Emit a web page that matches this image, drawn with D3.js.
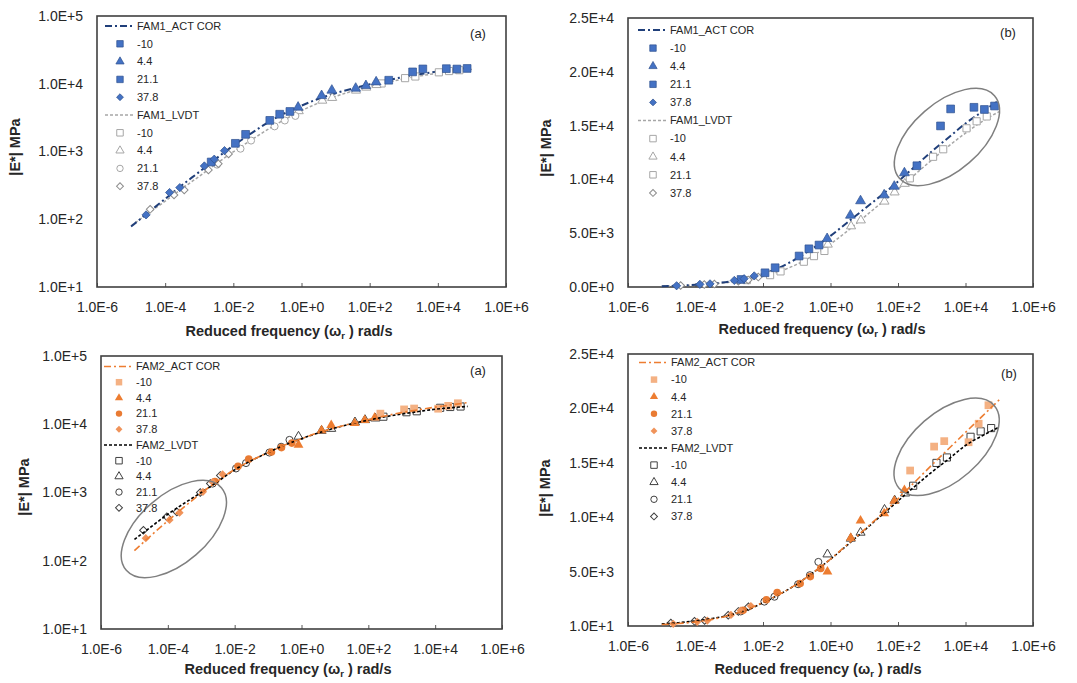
<!DOCTYPE html>
<html>
<head>
<meta charset="utf-8">
<script src="https://cdn.jsdelivr.net/npm/d3@7"></script>
<style>
  body { margin: 0; background: #fff; }
  text { font-family: Arial, "Liberation Sans", sans-serif; fill: #262626; }
</style>
</head>
<body>
<svg id="chart" width="1077" height="683"></svg>
<script>
// x values below are log10 of the reduced frequency (rad/s), y values are |E*| in MPa

const temps = ["-10", "4.4", "21.1", "37.8"];

const xTickExp = [-6, -4, -2, 0, 2, 4, 6];
const xTickLabels = ["1.0E-6", "1.0E-4", "1.0E-2", "1.0E+0", "1.0E+2", "1.0E+4", "1.0E+6"];
const yLogTicks = [1e1, 1e2, 1e3, 1e4, 1e5];
const yLogLabels = ["1.0E+1", "1.0E+2", "1.0E+3", "1.0E+4", "1.0E+5"];
const yLinTicks = [0, 5000, 10000, 15000, 20000, 25000];
const yLinLabels = ["0.0E+0", "5.0E+3", "1.0E+4", "1.5E+4", "2.0E+4", "2.5E+4"];
const yLin2Ticks = [10, 5010, 10010, 15010, 20010, 25010];
const yLin2Labels = ["1.0E+1", "5.0E+3", "1.0E+4", "1.5E+4", "2.0E+4", "2.5E+4"];

// FAM1 - actuator (corrected)
const f1Act_m10 = [[2.56, 11270], [3.26, 14970], [3.56, 16550], [4.25, 16700], [4.56, 16500], [4.86, 16820]];
const f1Act_4 = [[-0.10, 4490], [0.59, 6660], [0.89, 8000], [1.59, 8550], [1.89, 9350], [2.19, 10600]];
const f1Act_21 = [[-2.65, 700], [-1.94, 1320], [-1.64, 1790], [-0.93, 2880], [-0.64, 3550], [-0.34, 3900]];
const f1Act_37 = [[-4.56, 116], [-3.87, 248], [-3.57, 293], [-2.85, 612], [-2.56, 770], [-2.26, 1030]];
// FAM1 - LVDT
const f1Lvdt_m10 = [[2.35, 10100], [3.04, 12100], [3.34, 12800], [4.03, 14750], [4.33, 15400], [4.63, 15850]];
const f1Lvdt_4 = [[-0.08, 3950], [0.61, 5650], [0.90, 6200], [1.60, 7950], [1.90, 8800], [2.20, 9600]];
const f1Lvdt_21 = [[-2.48, 640], [-1.79, 1100], [-1.48, 1450], [-0.79, 2350], [-0.49, 2870], [-0.18, 3350]];
const f1Lvdt_37 = [[-4.44, 140], [-3.74, 228], [-3.44, 270], [-2.73, 535], [-2.44, 660], [-2.14, 920]];
// FAM1 master curves
const f1ActCurveX = [-5, -4.5, -4, -3.5, -3, -2.5, -2, -1.5, -1, -0.5, 0, 0.5, 1, 1.5, 2, 2.5, 3, 3.5, 4, 4.5, 4.93];
const f1ActCurveY = [78, 125, 200, 320, 500, 790, 1220, 1820, 2650, 3650, 4750, 6000, 7250, 8500, 9800, 11200, 12600, 13900, 15200, 16300, 17200];
const f1LvdtCurveX = [-5, -4.5, -4, -3.5, -3, -2.5, -2, -1.5, -1, -0.5, 0, 0.5, 1, 1.5, 2, 2.5, 3, 3.5, 4, 4.5, 5];
const f1LvdtCurveY = [80, 122, 185, 285, 430, 660, 990, 1450, 2100, 2950, 4000, 5200, 6500, 7800, 9100, 10450, 11800, 13100, 14300, 15400, 16300];

// FAM2 - actuator (corrected)
const f2Act_m10 = [[2.36, 14300], [3.07, 16500], [3.37, 17000], [4.09, 16900], [4.39, 18600], [4.68, 20300]];
const f2Act_4 = [[-0.09, 5000], [0.60, 8100], [0.89, 9700], [1.59, 10350], [1.89, 11500], [2.19, 12500]];
const f2Act_21 = [[-2.59, 1450], [-1.90, 2420], [-1.58, 3080], [-0.90, 3920], [-0.60, 4550], [-0.29, 5300]];
const f2Act_37 = [[-4.66, 214], [-3.95, 396], [-3.65, 507], [-2.95, 1025], [-2.66, 1420], [-2.36, 1840]];
// FAM2 - LVDT
const f2Lvdt_m10 = [[2.45, 12900], [3.14, 15000], [3.45, 15500], [4.15, 17400], [4.45, 17900], [4.76, 18200]];
const f2Lvdt_4 = [[-0.09, 6600], [0.60, 8050], [0.89, 8600], [1.60, 10700], [1.90, 11550], [2.21, 12200]];
const f2Lvdt_21 = [[-2.66, 1350], [-1.96, 2250], [-1.66, 2700], [-0.96, 3850], [-0.61, 4680], [-0.36, 5900]];
const f2Lvdt_37 = [[-4.73, 280], [-4.03, 440], [-3.73, 520], [-3.03, 1000], [-2.73, 1350], [-2.43, 1780]];
// FAM2 master curves
const f2ActCurveX = [-5, -4.5, -4, -3.5, -3, -2.5, -2, -1.5, -1, -0.5, 0, 0.5, 1, 1.5, 2, 2.5, 3, 3.5, 4, 4.5, 5];
const f2ActCurveY = [141, 235, 385, 620, 980, 1480, 2180, 2950, 3850, 4950, 6150, 7500, 8850, 10250, 11700, 13250, 14800, 16300, 17800, 19300, 20800];
const f2LvdtCurveX = [-5, -4.5, -4, -3.5, -3, -2.5, -2, -1.5, -1, -0.5, 0, 0.5, 1, 1.5, 2, 2.5, 3, 3.5, 4, 4.5, 4.97];
const f2LvdtCurveY = [205, 315, 480, 700, 1000, 1450, 2150, 2930, 3850, 4950, 6150, 7450, 8800, 10150, 11500, 12850, 14150, 15350, 16600, 17500, 18250];

// highlighted regions (centre in data units)
const ellipseP2 = [3.45, 13940];
const ellipseP3 = [-3.82, 292];
const ellipseP4 = [3.44, 16480];

const svg = d3.select("#chart");
const toXY = arr => arr.map(d => ({ f: Math.pow(10, d[0]), e: d[1] }));
const curvePts = (xs, ys) => xs.map((v, i) => ({ f: Math.pow(10, v), e: ys[i] }));

const fam1 = {
  actName: "FAM1_ACT COR", lvdtName: "FAM1_LVDT",
  act: [f1Act_m10, f1Act_4, f1Act_21, f1Act_37],
  lvdt: [f1Lvdt_m10, f1Lvdt_4, f1Lvdt_21, f1Lvdt_37],
  actCurve: curvePts(f1ActCurveX, f1ActCurveY),
  lvdtCurve: curvePts(f1LvdtCurveX, f1LvdtCurveY),
  actFill: ["#4472C4", "#4472C4", "#4472C4", "#4472C4"], actStroke: "#2F528F",
  lvdtStroke: ["#A6A6A6", "#A6A6A6", "#A6A6A6", "#8C8C8C"],
  actLine: { color: "#203F7A", dash: "7,3,2,3", w: 2 },
  lvdtLine: { color: "#A6A6A6", dash: "3,2", w: 1.5 },
  linesOnTop: false
};
const fam2 = {
  actName: "FAM2_ACT COR", lvdtName: "FAM2_LVDT",
  act: [f2Act_m10, f2Act_4, f2Act_21, f2Act_37],
  lvdt: [f2Lvdt_m10, f2Lvdt_4, f2Lvdt_21, f2Lvdt_37],
  actCurve: curvePts(f2ActCurveX, f2ActCurveY),
  lvdtCurve: curvePts(f2LvdtCurveX, f2LvdtCurveY),
  actFill: ["#F4B183", "#ED7D31", "#E97B33", "#F0935A"], actStroke: null,
  lvdtStroke: ["#404040", "#404040", "#404040", "#404040"],
  actLine: { color: "#ED7D31", dash: "7,3,2,3", w: 1.6 },
  lvdtLine: { color: "#000000", dash: "3,2", w: 1.6 },
  linesOnTop: true
};

const panels = [
  { l: 97, r: 506, t: 16, b: 287, yType: "log", yDom: [10, 1e5], yTicks: yLogTicks, yLabels: yLogLabels,
    fam: fam1, actShapes: ["square", "triangle", "square", "diamond"], lvdtShapes: ["square", "triangle", "circle", "diamond"],
    tag: "(a)", tagX: 478, tagY: 33, legX: 105, legY: 26, legStep: 17.8, xTitleX: 289, xTitleY: 331, yTitleX: 15, yTitleY: 147, ell: null },
  { l: 628, r: 1033, t: 18, b: 287, yType: "lin", yDom: [0, 25000], yTicks: yLinTicks, yLabels: yLinLabels,
    fam: fam1, actShapes: ["square", "triangle", "square", "diamond"], lvdtShapes: ["square", "triangle", "square", "diamond"],
    tag: "(b)", tagX: 1008, tagY: 32, legX: 638, legY: 30, legStep: 18.1, xTitleX: 822, xTitleY: 329, yTitleX: 546, yTitleY: 148, ell: ellipseP2 },
  { l: 101, r: 502, t: 356, b: 629, yType: "log", yDom: [10, 1e5], yTicks: yLogTicks, yLabels: yLogLabels,
    fam: fam2, actShapes: ["square", "triangle", "circle", "diamond"], lvdtShapes: ["square", "triangle", "circle", "diamond"],
    tag: "(a)", tagX: 478, tagY: 370, legX: 104, legY: 366.5, legStep: 15.7, xTitleX: 288, xTitleY: 669, yTitleX: 24, yTitleY: 487, ell: ellipseP3 },
  { l: 628, r: 1033, t: 354, b: 626, yType: "lin", yDom: [10, 25010], yTicks: yLin2Ticks, yLabels: yLin2Labels,
    fam: fam2, actShapes: ["square", "triangle", "circle", "diamond"], lvdtShapes: ["square", "triangle", "circle", "diamond"],
    tag: "(b)", tagX: 1009, tagY: 373, legX: 639, legY: 362.5, legStep: 17.1, xTitleX: 818, xTitleY: 669, yTitleX: 545, yTitleY: 488, ell: ellipseP4 }
];

const symTypes = { square: d3.symbolSquare, triangle: d3.symbolTriangle, circle: d3.symbolCircle, diamond: d3.symbolSquare };
const symSize = { square: 60, triangle: 42, circle: 46, diamond: 34 };

function drawPanel(p) {
  const g = svg.append("g");
  const fam = p.fam;
  const x = d3.scaleLog().domain([1e-6, 1e6]).range([p.l, p.r]);
  const y = (p.yType === "log" ? d3.scaleLog() : d3.scaleLinear()).domain(p.yDom).range([p.b, p.t]);

  // axes
  const xAxis = g.append("g").attr("transform", `translate(0,${p.b})`)
    .call(d3.axisBottom(x).tickValues(xTickExp.map(e => Math.pow(10, e)))
      .tickFormat((d, i) => xTickLabels[i]).tickSizeInner(-4).tickSizeOuter(0).tickPadding(15));
  xAxis.select(".domain").remove();
  xAxis.selectAll("line").attr("stroke", "#595959");
  xAxis.selectAll("text").style("font-size", "14px").attr("fill", "#262626");

  const yAxis = g.append("g").attr("transform", `translate(${p.l},0)`)
    .call(d3.axisLeft(y).tickValues(p.yTicks).tickFormat((d, i) => p.yLabels[i]).tickSize(0).tickPadding(14));
  yAxis.select(".domain").remove();
  yAxis.selectAll("text").style("font-size", "14px").attr("fill", "#262626");

  // frame
  g.append("rect").attr("x", p.l).attr("y", p.t).attr("width", p.r - p.l).attr("height", p.b - p.t)
    .attr("fill", "none").attr("stroke", "#404040").attr("stroke-width", 1.6);

  // titles
  const xt = g.append("text").attr("x", p.xTitleX).attr("y", p.xTitleY + 5)
    .attr("text-anchor", "middle").style("font-size", "14.5px").style("font-weight", "bold");
  xt.append("tspan").text("Reduced frequency (ω");
  xt.append("tspan").text("r").attr("dy", 3).style("font-size", "9.5px");
  xt.append("tspan").text(" ) rad/s").attr("dy", -3);

  g.append("text").attr("transform", `translate(${p.yTitleX},${p.yTitleY}) rotate(-90)`)
    .attr("dy", "0.35em").attr("text-anchor", "middle")
    .style("font-size", "14.5px").style("font-weight", "bold").text("|E*| MPa");

  g.append("text").attr("x", p.tagX).attr("y", p.tagY).attr("dy", "0.35em")
    .attr("text-anchor", "middle").style("font-size", "13px").text(p.tag);

  const line = d3.line().x(d => x(d.f)).y(d => y(d.e)).curve(d3.curveMonotoneX);

  const drawLines = () => {
    g.append("path").datum(fam.lvdtCurve).attr("d", line).attr("fill", "none")
      .attr("stroke", fam.lvdtLine.color).attr("stroke-width", fam.lvdtLine.w).attr("stroke-dasharray", fam.lvdtLine.dash);
    g.append("path").datum(fam.actCurve).attr("d", line).attr("fill", "none")
      .attr("stroke", fam.actLine.color).attr("stroke-width", fam.actLine.w).attr("stroke-dasharray", fam.actLine.dash);
  };

  const drawPoints = () => {
    // LVDT hollow markers
    fam.lvdt.forEach((arr, i) => {
      const shape = p.lvdtShapes[i];
      g.append("g").selectAll("path").data(toXY(arr)).join("path")
        .attr("d", d3.symbol(symTypes[shape], symSize[shape] * 0.85)())
        .attr("transform", d => `translate(${x(d.f)},${y(d.e)}) rotate(${shape === "diamond" ? 45 : 0})`)
        .attr("fill", "#fff").attr("stroke", fam.lvdtStroke[i]).attr("stroke-width", 1);
    });
    // actuator filled markers
    fam.act.forEach((arr, i) => {
      const shape = p.actShapes[i];
      g.append("g").selectAll("path").data(toXY(arr)).join("path")
        .attr("d", d3.symbol(symTypes[shape], symSize[shape])())
        .attr("transform", d => `translate(${x(d.f)},${y(d.e)}) rotate(${shape === "diamond" ? 45 : 0})`)
        .attr("fill", fam.actFill[i])
        .attr("stroke", fam.actStroke || "none").attr("stroke-width", 0.7);
    });
  };

  if (fam.linesOnTop) { drawPoints(); drawLines(); } else { drawLines(); drawPoints(); }

  // highlight ellipse
  if (p.ell) {
    g.append("ellipse")
      .attr("transform", `translate(${x(Math.pow(10, p.ell[0]))},${y(p.ell[1])}) rotate(-41)`)
      .attr("rx", 63).attr("ry", 34)
      .attr("fill", "none").attr("stroke", "#7F7F7F").attr("stroke-width", 1.5);
  }

  // legend
  const leg = g.append("g");
  let ly = p.legY;
  const lineX0 = p.legX, lineX1 = p.legX + 30, textX = p.legX + 32, mx = p.legX + 15;
  const legendBlock = (name, lineStyle, hollow) => {
    leg.append("line").attr("x1", lineX0).attr("x2", lineX1).attr("y1", ly).attr("y2", ly)
      .attr("stroke", lineStyle.color).attr("stroke-width", lineStyle.w).attr("stroke-dasharray", lineStyle.dash);
    leg.append("text").attr("x", textX).attr("y", ly).attr("dy", "0.35em").style("font-size", "11px").text(name);
    ly += p.legStep;
    temps.forEach((t, i) => {
      const shape = hollow ? p.lvdtShapes[i] : p.actShapes[i];
      const m = leg.append("path").attr("d", d3.symbol(symTypes[shape], symSize[shape] * 0.7)())
        .attr("transform", `translate(${mx},${ly}) rotate(${shape === "diamond" ? 45 : 0})`);
      if (hollow) m.attr("fill", "#fff").attr("stroke", fam.lvdtStroke[i]).attr("stroke-width", 1);
      else m.attr("fill", fam.actFill[i]).attr("stroke", fam.actStroke || "none").attr("stroke-width", 0.7);
      leg.append("text").attr("x", textX).attr("y", ly).attr("dy", "0.35em").style("font-size", "11px").text(t);
      ly += p.legStep;
    });
  };
  legendBlock(fam.actName, fam.actLine, false);
  legendBlock(fam.lvdtName, fam.lvdtLine, true);
}

panels.forEach(drawPanel);
</script>
</body>
</html>
